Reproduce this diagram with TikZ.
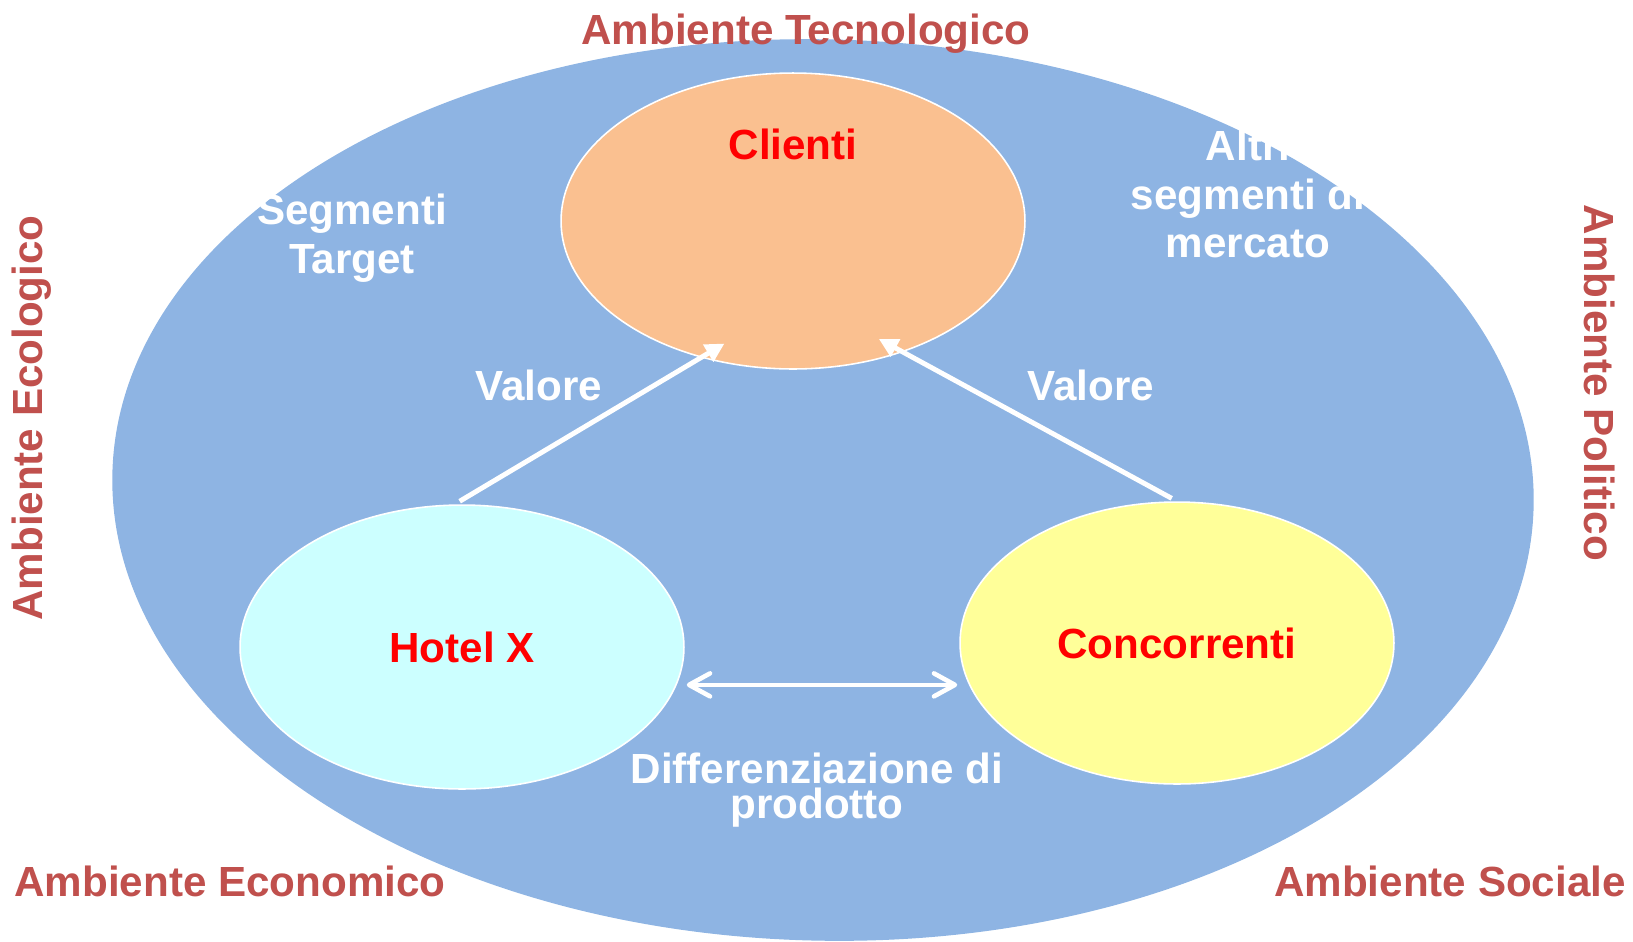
\documentclass[tikz,border=0pt]{standalone}
\usepackage{fontspec}
\setmainfont{Liberation Sans}
\usetikzlibrary{shapes.geometric,arrows.meta}
\definecolor{blu}{HTML}{8EB4E3}
\definecolor{arancio}{HTML}{FAC090}
\definecolor{ciano}{HTML}{CCFFFF}
\definecolor{giallo}{HTML}{FFFF99}
\definecolor{rossoamb}{HTML}{C0504D}

\begin{document}
\begin{tikzpicture}[x=0.02cm, y=-0.02cm,
  testo/.style={font=\fontsize{24}{27.8}\selectfont\bfseries, align=center, inner sep=0pt},
  amb/.style={testo, text=rossoamb},
  bianco/.style={testo, text=white},
  cerchio/.style={ellipse, draw=white, line width=0.9pt, testo, text=red},
  freccia/.style={draw=white, line width=2.8pt, -{Triangle[length=0.38cm, width=0.38cm]},
    shorten <=0.12cm, shorten >=-0.55cm},
  doppia/.style={draw=white, line width=2.6pt, line cap=round,
    {Straight Barb[length=0.42cm, width=0.46cm, round]}-{Straight Barb[length=0.42cm, width=0.46cm, round]},
    shorten <=0.2cm, shorten >=0.04cm}]
  \useasboundingbox (0,0) rectangle (1633,941);
  \node (ambiente) [ellipse, fill=blu, minimum width=28.44cm, minimum height=18.03cm, rotate=-1.35] at (823,490) {};

  \node (tecno) [amb, anchor=base] at (806,44) {Ambiente Tecnologico};
  \node (econ) [amb, anchor=base] at (230,896) {Ambiente Economico};
  \node (sociale) [amb, anchor=base] at (1450,896) {Ambiente Sociale};
  \node (ecolog) [amb, rotate=90] at (32,418) {Ambiente Ecologico};
  \node (politico) [amb, rotate=-90] at (1600,383) {Ambiente Politico};

  \node (target) [bianco] at (352,238) {Segmenti\\Target};
  \node (altri) [bianco] at (1248,194) {Altri\\segmenti di\\mercato};
  \node (valore1) [bianco, anchor=base] at (539,400) {Valore};
  \node (valore2) [bianco, anchor=base] at (1091,400) {Valore};
  \node (differ) [bianco, font=\fontsize{24}{19.8}\selectfont\bfseries] at (817,790) {Differenziazione di\\prodotto};

  \node (clienti) [cerchio, fill=arancio, minimum width=9.28cm, minimum height=5.92cm] at (793,221) {};
  \node (clientitxt) [testo, text=red, anchor=base] at (793,159) {Clienti};
  \node (hotel) [cerchio, fill=ciano, minimum width=8.88cm, minimum height=5.68cm] at (462,647) {Hotel X};
  \node (conc) [cerchio, fill=giallo, minimum width=8.68cm, minimum height=5.64cm] at (1177,643) {Concorrenti};

  \draw [freccia] (hotel.93) -- (clienti.236);
  \draw [freccia] (conc.north) -- (clienti.310);
  \draw [doppia] (hotel.350) -- (hotel.350 -| conc.west);

\end{tikzpicture}
\end{document}
